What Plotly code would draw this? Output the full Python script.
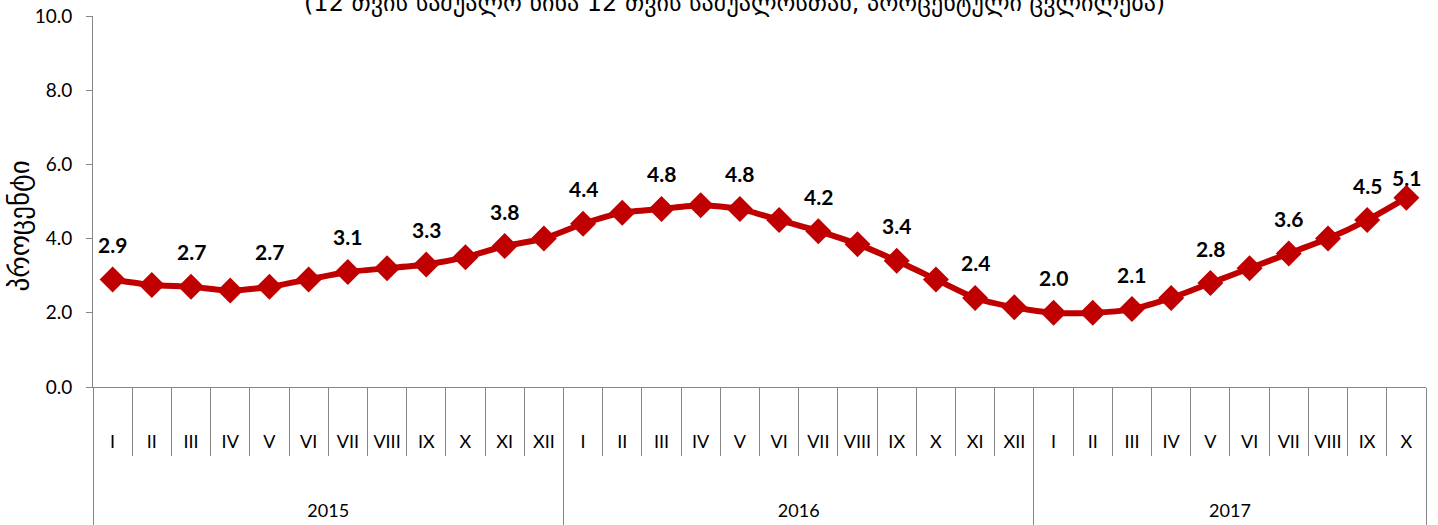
import plotly.graph_objects as go

# ---- data ----
years = ["2015", "2016", "2017"]
months_per_year = [12, 12, 10]
month_names = ["I", "II", "III", "IV", "V", "VI", "VII", "VIII", "IX", "X", "XI", "XII"]
values_2015 = [2.9, 2.75, 2.7, 2.6, 2.7, 2.9, 3.1, 3.2, 3.3, 3.5, 3.8, 4.0]
values_2016 = [4.4, 4.7, 4.8, 4.9, 4.8, 4.5, 4.2, 3.85, 3.4, 2.9, 2.4, 2.15]
values_2017 = [2.0, 2.0, 2.1, 2.4, 2.8, 3.2, 3.6, 4.0, 4.5, 5.1]
y_ticks = [0, 2, 4, 6, 8, 10]
title_text = "(12 თვის საშუალო წინა 12 თვის საშუალოსთან, პროცენტული ცვლილება)"
y_title = "პროცენტი"

values = values_2015 + values_2016 + values_2017
month_labels = []
for n in months_per_year:
    month_labels += month_names[:n]
x_idx = list(range(len(values)))

# year boundaries and centres
bounds = [-0.5]
centers = []
for n in months_per_year:
    centers.append(bounds[-1] + n / 2)
    bounds.append(bounds[-1] + n)

RED = "#C00000"
GRAY = "#868686"
FONT = "Lato"

fig = go.Figure()
fig.add_trace(go.Scatter(
    x=x_idx, y=values, mode="lines+markers",
    line=dict(color=RED, width=6, shape="spline", smoothing=0.6),
    marker=dict(symbol="diamond", size=20, color=RED),
    hoverinfo="skip", showlegend=False, xaxis="x", yaxis="y",
))
# invisible trace to activate the second x axis
fig.add_trace(go.Scatter(x=[bounds[0], bounds[-1]], y=[None, None], xaxis="x2", yaxis="y",
                         showlegend=False, hoverinfo="skip"))

annotations = []
last = len(values) - 1
for i, v in enumerate(values):
    if i % 2 == 0 or i == last:
        annotations.append(dict(
            x=i, y=v, xref="x", yref="y", text=f"<b>{v:.1f}</b>", showarrow=False,
            yshift=20 if i == last else 35, font=dict(family=FONT, size=21, color="black"),
        ))

annotations.append(dict(x=0.481, xref="paper", y=1.0, yref="paper", yshift=13, yanchor="middle",
                        text=title_text, showarrow=False,
                        font=dict(family="DejaVu Sans", size=24, color="black")))
annotations.append(dict(x=-0.0548, xref="paper", xanchor="center", y=0.435, yref="paper",
                        yanchor="middle", textangle=-90, text=y_title, showarrow=False,
                        font=dict(family="DejaVu Sans", size=27, color="black")))

fig.update_layout(
    width=1438, height=525,
    margin=dict(l=93, r=12, t=16, b=138, autoexpand=False),
    paper_bgcolor="white", plot_bgcolor="white",
    font=dict(family=FONT, size=18, color="black"),
    annotations=annotations,
    xaxis=dict(
        range=[bounds[0], bounds[-1]], tickmode="array", tickvals=x_idx, ticktext=month_labels,
        ticks="", ticklabelstandoff=38, showgrid=False, zeroline=False, automargin=False,
        showline=True, linecolor=GRAY, linewidth=1,
        tickfont=dict(family=FONT, size=18),
        minor=dict(tickmode="array", tickvals=[b - 0.5 for b in range(0, len(values) + 1)],
                   ticks="outside", ticklen=68, tickcolor=GRAY, tickwidth=1, showgrid=False),
    ),
    xaxis2=dict(
        overlaying="x", side="bottom", range=[bounds[0], bounds[-1]], tickmode="array",
        tickvals=centers, ticktext=years, ticks="", ticklabelstandoff=111, automargin=False,
        showgrid=False, zeroline=False, showline=False,
        tickfont=dict(family=FONT, size=18),
        minor=dict(tickmode="array", tickvals=bounds, ticks="outside", ticklen=138,
                   tickcolor=GRAY, tickwidth=1, showgrid=False),
    ),
    yaxis=dict(
        range=[0, 10], tickmode="array", tickvals=y_ticks, tickformat=".1f", automargin=False,
        ticks="outside", ticklen=6, tickcolor=GRAY, showline=True, linecolor=GRAY,
        ticklabelstandoff=10,
        linewidth=1, showgrid=False, zeroline=False, tickfont=dict(family=FONT, size=19),
    ),
)

fig.write_html("out.html", config={"displayModeBar": False},
               post_script="document.body.style.margin='0';document.body.style.overflow='hidden';")
